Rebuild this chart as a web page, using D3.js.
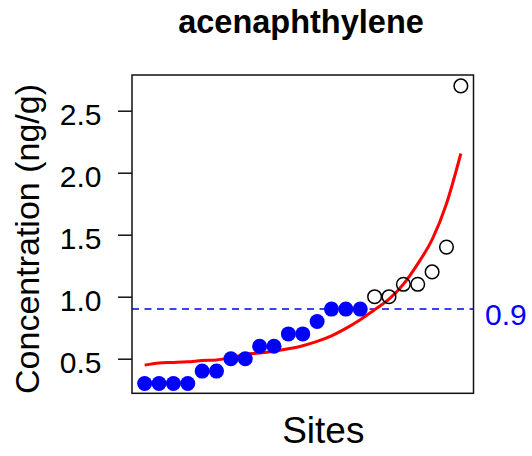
<!DOCTYPE html>
<html>
<head>
<meta charset="utf-8">
<script src="https://cdn.jsdelivr.net/npm/d3@7"></script>
<style>
  html, body { margin: 0; padding: 0; background: #fff; }
  svg { display: block; font-family: "Liberation Sans", Arial, sans-serif; }
</style>
</head>
<body>
<svg id="chart" width="532" height="456"></svg>
<script>
// ---- data ----
const siteIndex = d3.range(1, 24);
const concentration = [0.3, 0.3, 0.3, 0.3, 0.4, 0.4, 0.5, 0.5, 0.6, 0.6, 0.7, 0.7, 0.8, 0.9, 0.9, 0.9,
                       1.0, 1.0, 1.1, 1.1, 1.2, 1.4, 2.7];
const fittedCurve = [0.448, 0.466, 0.47, 0.475, 0.485, 0.49, 0.51, 0.535, 0.545, 0.56, 0.58, 0.605,
                     0.64, 0.685, 0.745, 0.815, 0.895, 0.98, 1.10, 1.265, 1.46, 1.75, 2.155];
const threshold = 0.9;
const yTicks = [0.5, 1.0, 1.5, 2.0, 2.5];
const titleText = "acenaphthylene";
const xLabel = "Sites";
const yLabel = "Concentration (ng/g)";

// ---- layout ----
const box = { left: 132, right: 473.5, top: 75, bottom: 393.3 };
const svg = d3.select("#chart");

const x = d3.scaleLinear().domain([0.12, 23.88]).range([box.left, box.right]);
const y = d3.scaleLinear().domain([0.221, 2.788]).range([box.bottom, box.top]);

// threshold dashed line
svg.append("line")
  .attr("x1", box.left).attr("x2", box.right)
  .attr("y1", y(threshold)).attr("y2", y(threshold))
  .attr("stroke", "#0000ff").attr("stroke-width", 1.5)
  .attr("stroke-dasharray", "7,5.5");

// fitted curve
svg.append("path")
  .datum(siteIndex.map((s, i) => [s, fittedCurve[i]]))
  .attr("fill", "none").attr("stroke", "#ff0000").attr("stroke-width", 3)
  .attr("d", d3.line().x(d => x(d[0])).y(d => y(d[1])).curve(d3.curveMonotoneX));

// points
svg.append("g").selectAll("circle")
  .data(siteIndex.map((s, i) => ({ s, v: concentration[i] })))
  .join("circle")
  .attr("cx", d => x(d.s)).attr("cy", d => y(d.v))
  .attr("r", d => d.v <= threshold ? 7.5 : 6.8)
  .attr("fill", d => d.v <= threshold ? "#0000ff" : "none")
  .attr("stroke", d => d.v <= threshold ? "#0000ff" : "#000")
  .attr("stroke-width", d => d.v <= threshold ? 0 : 1.5);

// frame
svg.append("rect")
  .attr("x", box.left).attr("y", box.top)
  .attr("width", box.right - box.left).attr("height", box.bottom - box.top)
  .attr("fill", "none").attr("stroke", "#111").attr("stroke-width", 1.5);

// y axis
const yAxis = d3.axisLeft(y).tickValues(yTicks).tickFormat(d3.format(".1f")).tickSize(14).tickPadding(0);
const gy = svg.append("g").attr("transform", `translate(${box.left},0)`).call(yAxis);
gy.select(".domain").remove();
gy.selectAll(".tick line").attr("stroke", "#111").attr("stroke-width", 1.5);
gy.selectAll(".tick text")
  .attr("x", 101.5 - box.left)
  .attr("dy", null)
  .attr("y", 13.5)
  .attr("text-anchor", "end")
  .attr("font-size", 30)
  .attr("font-family", "Liberation Sans, Arial, sans-serif")
  .attr("fill", "#000");

// threshold label
svg.append("text")
  .attr("x", 485).attr("y", y(threshold) + 16)
  .attr("font-size", 30).attr("fill", "#0000ff")
  .text(d3.format(".1f")(threshold));

// title
svg.append("text")
  .attr("x", 301).attr("y", 33)
  .attr("text-anchor", "middle")
  .attr("font-size", 32.5).attr("font-weight", "bold")
  .text(titleText);

// x label
svg.append("text")
  .attr("x", 323.3).attr("y", 443.3)
  .attr("text-anchor", "middle")
  .attr("font-size", 37)
  .text(xLabel);

// y label
svg.append("text")
  .attr("transform", "translate(38.5,239) rotate(-90)")
  .attr("text-anchor", "middle")
  .attr("font-size", 34)
  .text(yLabel);
</script>
</body>
</html>
